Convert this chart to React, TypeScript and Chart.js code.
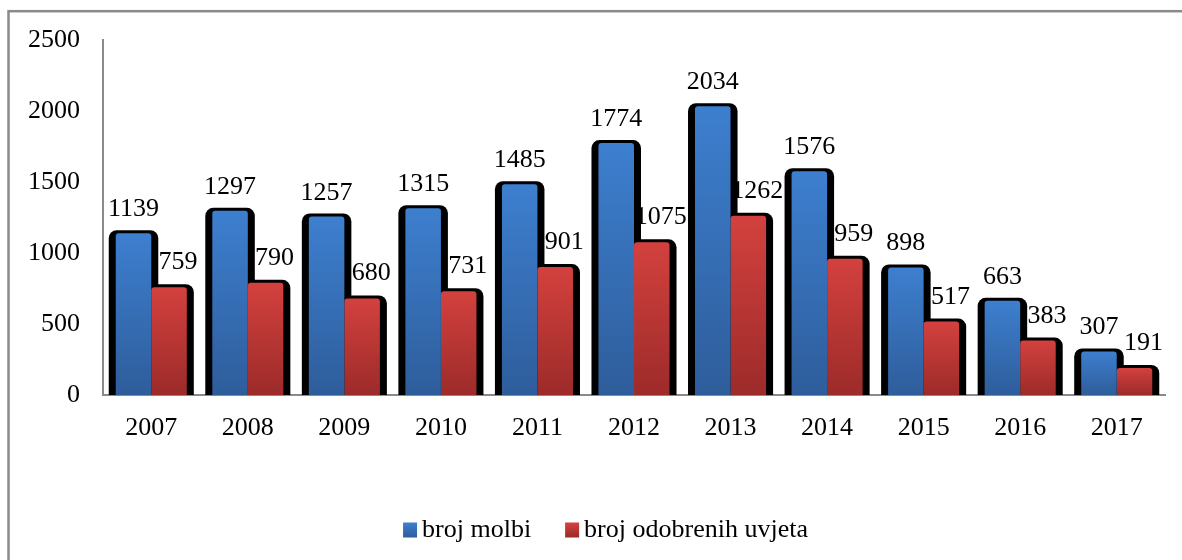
import React, { useEffect, useRef } from "react";
import { Chart, registerables } from "chart.js";

Chart.register(...registerables);

const years = ["2007", "2008", "2009", "2010", "2011", "2012", "2013", "2014", "2015", "2016", "2017"];
const brojMolbi = [1139, 1297, 1257, 1315, 1485, 1774, 2034, 1576, 898, 663, 307];
const brojOdobrenih = [759, 790, 680, 731, 901, 1075, 1262, 959, 517, 383, 191];
const seriesNames = ["broj molbi", "broj odobrenih uvjeta"];
const yMax = 2500;
const yStep = 500;

const FONT = '"Liberation Serif", "Times New Roman", serif';
const BLUE = ["#3D7FCF", "#2E5D9B"];
const RED = ["#D3413E", "#9C2B29"];
const COLORS = [BLUE, RED];

const grad = (cols: string[]) => (ctx: any) => {
  const chart = ctx.chart;
  const y = chart.scales && chart.scales.y;
  if (!y || !chart.chartArea || ctx.type !== "data") return cols[0];
  const top = y.getPixelForValue(ctx.raw as number);
  const bot = y.getPixelForValue(0);
  if (!isFinite(top) || !isFinite(bot) || bot - top < 1) return cols[0];
  const g = chart.ctx.createLinearGradient(0, top, 0, bot);
  g.addColorStop(0, cols[0]);
  g.addColorStop(1, cols[1]);
  return g;
};

const shadowPlugin = {
  id: "barShadow",
  beforeDatasetsDraw(chart: any) {
    const ctx = chart.ctx;
    ctx.save();
    ctx.fillStyle = "#000";
    chart.data.datasets.forEach((_: any, di: number) => {
      const meta = chart.getDatasetMeta(di);
      meta.data.forEach((el: any) => {
        const l = el.x - el.width / 2 - 7;
        const r = el.x + el.width / 2 + 7;
        const t = el.y - 3;
        const b = el.base;
        ctx.beginPath();
        (ctx as any).roundRect(l, t, r - l, b - t, [8, 8, 0, 0]);
        ctx.fill();
      });
    });
    ctx.restore();
  },
};

const labelPlugin = {
  id: "valueLabels",
  afterDatasetsDraw(chart: any) {
    const ctx = chart.ctx;
    ctx.save();
    ctx.font = `26px ${FONT}`;
    ctx.fillStyle = "#000";
    ctx.textAlign = "center";
    ctx.textBaseline = "alphabetic";
    chart.data.datasets.forEach((ds: any, di: number) => {
      const meta = chart.getDatasetMeta(di);
      meta.data.forEach((el: any, i: number) => {
        const dx = di === 0 ? 0 : 9;
        const dy = di === 0 ? 17 : 18;
        ctx.fillText(String(ds.data[i]), el.x + dx, el.y - dy);
      });
    });
    ctx.restore();
  },
};

const framePlugin = {
  id: "frame",
  afterDraw(chart: any) {
    const ctx = chart.ctx;
    ctx.save();
    ctx.strokeStyle = "#8a8a8a";
    ctx.lineWidth = 2.5;
    ctx.strokeRect(8.5, 11.2, 3000, 3000);
    ctx.restore();
  },
};

const legendPlugin = {
  id: "customLegend",
  afterDraw(chart: any) {
    const ctx = chart.ctx;
    ctx.save();
    ctx.font = `26px ${FONT}`;
    ctx.textBaseline = "alphabetic";
    ctx.textAlign = "left";
    const box = 14;
    const gap = 5;
    const itemGap = 34;
    const widths = seriesNames.map((n) => ctx.measureText(n).width);
    const total = widths.reduce((a, w) => a + box + gap + w, 0) + itemGap * (seriesNames.length - 1);
    let x = 605.5 - total / 2;
    const baseY = 537;
    seriesNames.forEach((n, i) => {
      const g = ctx.createLinearGradient(0, baseY - box, 0, baseY);
      g.addColorStop(0, COLORS[i][0]);
      g.addColorStop(1, COLORS[i][1]);
      ctx.fillStyle = g;
      ctx.fillRect(x, baseY - box - 0.5, box, box + 1);
      x += box + gap;
      ctx.fillStyle = "#000";
      ctx.fillText(n, x, baseY);
      x += widths[i] + itemGap;
    });
    ctx.restore();
  },
};

export default function App() {
  const ref = useRef<HTMLCanvasElement | null>(null);
  useEffect(() => {
    if (!ref.current) return;
    const chart = new Chart(ref.current, {
      type: "bar",
      data: {
        labels: years,
        datasets: [
          {
            label: seriesNames[0],
            data: brojMolbi,
            backgroundColor: grad(BLUE),
            borderRadius: 3,
            barPercentage: 1,
            categoryPercentage: 0.736,
          },
          {
            label: seriesNames[1],
            data: brojOdobrenih,
            backgroundColor: grad(RED),
            borderRadius: 3,
            barPercentage: 1,
            categoryPercentage: 0.736,
          },
        ],
      },
      options: {
        responsive: false,
        animation: false,
        devicePixelRatio: 1,
        layout: { padding: { top: 40, right: 17, left: 0, bottom: 0 } },
        plugins: {
          legend: { display: false },
          tooltip: { enabled: false },
          title: { display: false },
        },
        scales: {
          x: {
            grid: { display: false, drawTicks: false },
            border: { display: true, color: "#8a8a8a", width: 2 },
            ticks: {
              font: { family: FONT, size: 26 },
              color: "#000",
              padding: 18,
              maxRotation: 0,
              autoSkip: false,
            },
            afterFit: (s: any) => {
              s.height = 165;
            },
          },
          y: {
            min: 0,
            max: yMax,
            grid: { display: false, drawTicks: false },
            border: { display: true, color: "#8a8a8a", width: 2 },
            ticks: {
              stepSize: yStep,
              font: { family: FONT, size: 26 },
              color: "#000",
              padding: 23,
              callback: (v: any) => String(v),
            },
            afterFit: (s: any) => {
              s.width = 103;
            },
          },
        },
      },
      plugins: [shadowPlugin, labelPlugin, framePlugin, legendPlugin],
    });
    return () => chart.destroy();
  }, []);
  return (
    <div style={{ position: "fixed", left: 0, top: 0, width: 1182, height: 560, background: "#fff" }}>
      <canvas ref={ref} width={1182} height={560} style={{ display: "block", width: 1182, height: 560 }} />
    </div>
  );
}
